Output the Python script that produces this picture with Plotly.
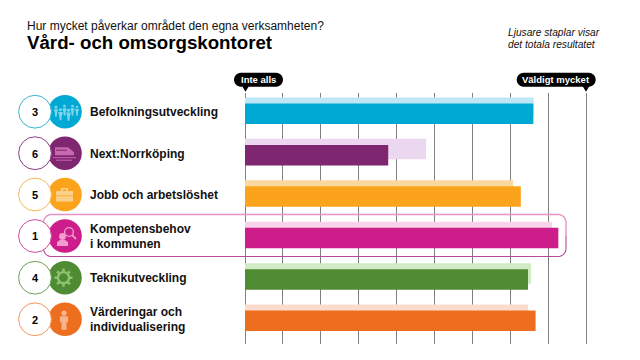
import math
import plotly.graph_objects as go

categories = ["Befolkningsutveckling", "Next:Norrköping", "Jobb och arbetslöshet",
              "Kompetensbehov<br>i kommunen", "Teknikutveckling", "Värderingar och<br>individualisering"]
ranks = [3, 6, 5, 1, 4, 2]
unit_values = [8.61, 4.78, 8.28, 9.27, 8.47, 8.67]
total_values = [8.62, 5.78, 8.08, 9.10, 8.55, 8.47]
dark_colors = ["#00A9D4", "#7E2670", "#FBA31A", "#CC1D8B", "#4F8B33", "#EE6E1F"]
light_colors = ["#BEE6F5", "#EBD7F0", "#FAD9A0", "#F8D2E8", "#D3EBC4", "#FADBCD"]
icon_colors = ["#7FD4EA", "#C868B0", "#FBD08A", "#F29CCF", "#8FC56E", "#F9B48C"]

AX_L, AX_R = 245.0, 586.0
L, R, T, B = 243.0, 588.0, 93.0, 344.0
SCALE_MIN, SCALE_MAX = 1, 10
PX_PER_UNIT = (AX_R - AX_L) / (SCALE_MAX - SCALE_MIN)
def X(px): return (px - L) / (R - L)
def Y(py): return (B - py) / (B - T)

fig = go.Figure()
idx = list(range(len(categories)))
fig.add_bar(y=idx, x=[v - SCALE_MIN for v in total_values], base=SCALE_MIN, orientation="h",
            width=0.495, offset=-0.3925, marker=dict(color=light_colors, line_width=0), hoverinfo="skip")
fig.add_bar(y=idx, x=[v - SCALE_MIN for v in unit_values], base=SCALE_MIN, orientation="h",
            width=0.495, offset=-0.2475, marker=dict(color=dark_colors, line_width=0), hoverinfo="skip")

shapes, ann = [], []
def circ(cx, cy, r, fill, line=None, w=1):
    shapes.append(dict(type="circle", xref="paper", yref="paper", x0=X(cx-r), x1=X(cx+r), y0=Y(cy+r), y1=Y(cy-r),
                       fillcolor=fill, line=dict(color=line or fill, width=w if line else 0), layer="above"))
def path(points, fill=None, line=None, w=1, close=True):
    d = "M " + " L ".join(f"{X(a):.5f},{Y(b):.5f}" for a, b in points) + (" Z" if close else "")
    shapes.append(dict(type="path", xref="paper", yref="paper", path=d, fillcolor=fill or "rgba(0,0,0,0)",
                       line=dict(color=line or "rgba(0,0,0,0)", width=w), layer="above"))
def rect(x0, y0, x1, y1, fill):
    path([(x0, y0), (x1, y0), (x1, y1), (x0, y1)], fill=fill)
def text(x, y, s, size, color="#000", bold=False, italic=False, anchor="left"):
    if bold: s = "<b>" + s + "</b>"
    if italic: s = "<i>" + s + "</i>"
    ann.append(dict(xref="paper", yref="paper", x=X(x), y=Y(y), text=s, showarrow=False, xanchor=anchor, yanchor="middle",
                    align="left", font=dict(size=size, color=color, family="Liberation Sans"), xshift=0, borderpad=0))

def arc(cx, cy, r, a0, a1, n=12):
    return [(cx + r*math.cos(math.radians(a0+(a1-a0)*i/n)), cy + r*math.sin(math.radians(a0+(a1-a0)*i/n))) for i in range(n+1)]

# highlighted frame (top and bottom halves differ in tint)
fx0, fx1, fy0, fy1, rad = 43.5, 566, 214.5, 256.5, 8
mid = (fy0 + fy1) / 2
path([(fx0, mid)] + arc(fx0+rad, fy0+rad, rad, 180, 270) + arc(fx1-rad, fy0+rad, rad, 270, 360) + [(fx1, mid)],
     line="#E495C5", w=1.4, close=False)
path([(fx1, mid)] + arc(fx1-rad, fy1-rad, rad, 0, 90) + arc(fx0+rad, fy1-rad, rad, 90, 180) + [(fx0, mid)],
     line="#B5499A", w=1.1, close=False)

row_y = [111.7, 153.2, 194.5, 236.0, 277.7, 319.3]
ring_colors = ["#35B4D4", "#8A4080", "#F5B957", "#CF4AA0", "#6E9E58", "#F0955A"]
for i, cy in enumerate(row_y):
    circ(65, cy, 16.8, dark_colors[i])
    circ(35, cy, 16.4, "#FFFFFF", ring_colors[i], 1)
    text(35, cy + 0.5, str(ranks[i]), 11, bold=True, anchor="center")

def person(cx, top, h, c):
    r = h * 0.13
    circ(cx, top + r, r, c)
    w = h * 0.2
    path([(cx-w, top+2*r+0.6), (cx+w, top+2*r+0.6), (cx+w*0.55, top+h*0.62), (cx+w*0.35, top+h),
          (cx-w*0.35, top+h), (cx-w*0.55, top+h*0.62)], fill=c)

# row icons
c = icon_colors[0]; y0 = row_y[0]
for cx, t, h in [(56, -6, 11), (60.5, -3.5, 12), (68.5, -3, 12), (64.5, -7, 11), (72.5, -7, 11), (77, -6, 10)]:
    person(cx, y0 + t, h, c)
c = icon_colors[1]; y0 = row_y[1]
path([(55, y0-6), (68, y0-6), (74, y0-1), (74, y0+2), (55, y0+2)], fill=c)
rect(53, y0+4, 76, y0+5, c); rect(56, y0+6.5, 72, y0+7.5, c)
rect(56, y0-3.5, 67, y0-2.5, dark_colors[1])
c = icon_colors[2]; y0 = row_y[2]
rect(56, y0-3.5, 73, y0+7, c); rect(61, y0-6.5, 68, y0-3.5, c)
rect(63, y0-5, 66, y0-3.5, dark_colors[2]); rect(56, y0+1, 73, y0+1.8, dark_colors[2])
c = icon_colors[3]; y0 = row_y[3]
circ(62.5, y0+0.5, 3.4, c)
path([(57, y0+10), (57, y0+6), (60, y0+4), (65, y0+4), (68, y0+6), (68, y0+10)], fill=c)
circ(69, y0-4, 4.4, dark_colors[3], c, 1.4)
path([(72.2, y0-0.8), (76, y0+3)], line=c, w=1.8, close=False)
c = icon_colors[4]; y0 = row_y[4]
circ(63.5, y0, 5.6, "rgba(0,0,0,0)", c, 2.4)
for k in range(8):
    a = math.radians(45 * k)
    path([(63.5+6.5*math.cos(a), y0+6.5*math.sin(a)), (63.5+9*math.cos(a), y0+9*math.sin(a))], line=c, w=2.6, close=False)
c = icon_colors[5]; y0 = row_y[5]
circ(64, y0-6.2, 2.6, c)
path([(60, y0-3), (68, y0-3), (68, y0+3), (66.5, y0+3), (66.5, y0+10.5), (61.5, y0+10.5), (61.5, y0+3), (60, y0+3)], fill=c)

label_x = 89
label_ys = [[112], [153.5], [194.5], [229.2, 243.8], [278], [312.3, 327]]
for cat, ys in zip(categories, label_ys):
    for part, y in zip(cat.split("<br>"), ys):
        text(label_x, y, part, 12, color="#111", bold=True)

# scale end pills
def pill(x0, x1, tip, label):
    y0p, y1p, r = 72.7, 86.7, 7
    pts = arc(x0+r, y0p+r, r, 90, 270) + arc(x1-r, y0p+r, r, 270, 450)
    pts += [(tip+3, y1p), (tip, y1p+5), (tip-3, y1p)]
    path(pts, fill="#000000")
    text((x0+x1)/2, 79.7, label, 9.5, color="#FFFFFF", bold=True, anchor="center")
pill(234, 283, 245.5, "Inte alls")
pill(516.7, 595.7, 586, "Väldigt mycket")

text(26, 25.5, "Hur mycket påverkar området den egna verksamheten?", 12, color="#111")
text(26, 43, "Vård- och omsorgskontoret", 18.7, bold=True)
text(506.5, 32.5, "Ljusare staplar visar", 10.2, color="#111", italic=True)
text(506.5, 45, "det totala resultatet", 10.2, color="#111", italic=True)

fig.update_layout(
    width=640, height=360, margin=dict(l=L, r=640-R, t=T, b=360-B, autoexpand=False),
    autosize=False, paper_bgcolor="#FFFFFF", plot_bgcolor="#FFFFFF", barmode="overlay", showlegend=False,
    shapes=shapes, annotations=ann,
    xaxis=dict(range=[SCALE_MIN-(AX_L-L)/PX_PER_UNIT, SCALE_MAX+(R-AX_R)/PX_PER_UNIT], dtick=1, tick0=SCALE_MIN, showgrid=True, gridcolor="#808080", gridwidth=1,
               zeroline=False, showline=False, showticklabels=False, ticks="", fixedrange=True),
    yaxis=dict(range=[5.56, -0.5], showgrid=False, zeroline=False, showticklabels=False, ticks="", showline=False, fixedrange=True),
)
fig.write_html("out.html", config=dict(displayModeBar=False),
               post_script="document.body.style.margin='0';document.documentElement.style.overflow='hidden';")
